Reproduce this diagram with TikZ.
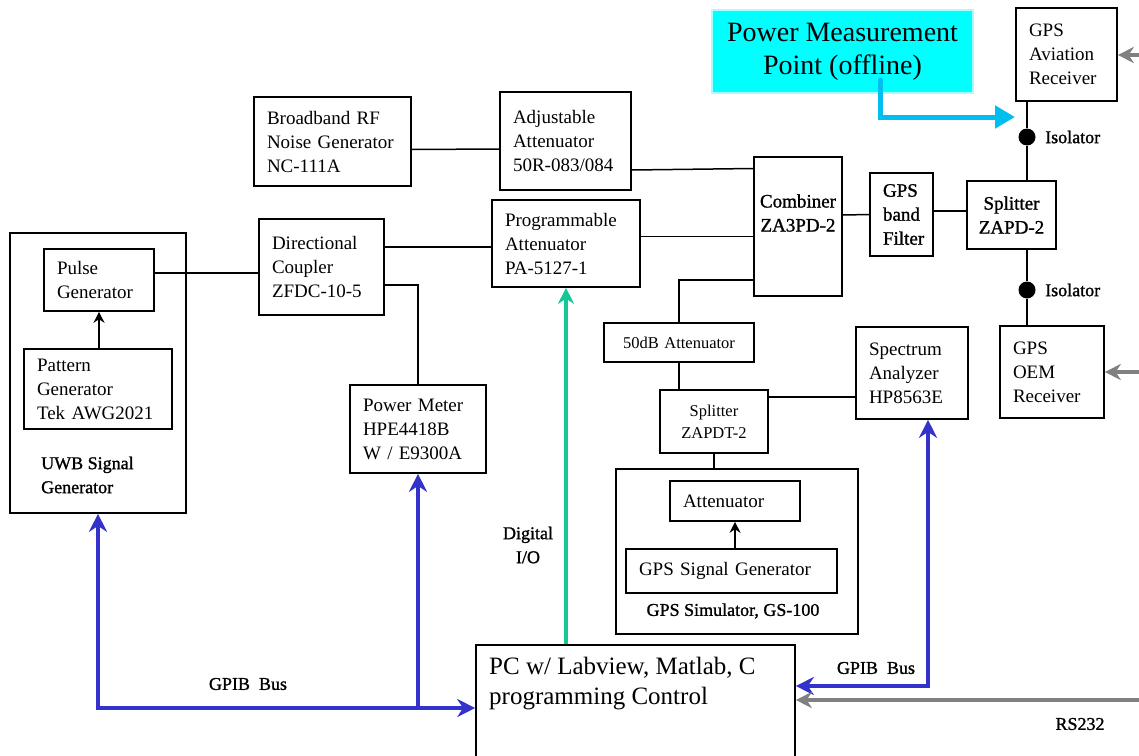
\documentclass[tikz,border=0pt]{standalone}
\usepackage{fontspec}
\setmainfont{Liberation Serif}
\newfontfamily\heavyfont{Liberation Serif}[FakeBold=1.2]
\usetikzlibrary{arrows.meta}

\definecolor{busblue}{RGB}{51,51,204}
\definecolor{iogreen}{RGB}{20,200,150}
\definecolor{measblue}{RGB}{0,190,240}
\definecolor{measfill}{RGB}{0,255,255}
\definecolor{rsgray}{RGB}{128,128,128}

\begin{document}
\begin{tikzpicture}
  [x=1pt,y=-1pt,
   box/.style={draw,line width=1.6pt,align=left,inner xsep=13pt,inner ysep=2pt,font=\fontsize{19}{24}\selectfont},
   dims/.style 2 args={text width=#1pt,minimum height=#2pt},
   heavy/.style={font=\heavyfont\fontsize{19}{24}\selectfont},
   smalltxt/.style={align=center,font=\fontsize{16.5}{22}\selectfont},
   plainbox/.style={draw,line width=1.6pt},
   measbox/.style={draw=measfill!35!white,fill=measfill,line width=1.5pt,align=center,
     minimum width=261pt,minimum height=83pt,font=\fontsize{28}{33}\selectfont},
   lbl/.style={inner sep=0pt,align=center,font=\heavyfont\fontsize{18}{24}\selectfont},
   isodot/.style={circle,fill=black,inner sep=0pt,minimum size=17pt},
   wire/.style={line width=1.5pt},
   bus/.style={line width=3.5pt,busblue},
   rsline/.style={line width=3.5pt,rsgray,-{Stealth[length=16pt,width=16pt]}},
   iolink/.style={line width=3.5pt,iogreen,-{Stealth[length=16pt,width=16pt]}},
   measarrow/.style={line width=5pt,measblue,line cap=round,-{Triangle[length=20pt,width=22pt]}}]
  \useasboundingbox (0,0) rectangle (1139,755);

  \node[measbox] (pmp) at (842.5,51.5) {Power Measurement\\Point (offline)};
  \node[box,dims={75}{93}] (gpsav) at (1066.5,54.5) {GPS\\Aviation\\Receiver};
  \node[box,dims={131}{89}] (noise) at (332.5,141.5) {Broadband RF\\Noise Generator\\NC-111A};
  \node[box,dims={105}{98}] (adjatt) at (565.5,141) {Adjustable\\Attenuator\\50R-083/084};
  \node[plainbox,minimum width=88pt,minimum height=139pt] (comb) at (798,226.5) {};
  \node[lbl,heavy] (combtxt) at (798,213) {Combiner\\ZA3PD-2};
  \node[box,heavy,dims={37}{83}] (filter) at (901.5,214.5) {GPS\\band\\Filter};
  \node[box,heavy,align=center,inner xsep=6pt,dims={77}{68}] (split) at (1011.5,215) {Splitter\\\mbox{ZAPD-2}};
  \node[isodot] (iso1) at (1027,137) {};
  \node[isodot] (iso2) at (1027,290) {};
  \node[lbl,anchor=west] (iso1txt) at (1045,137) {Isolator};
  \node[lbl,anchor=west] (iso2txt) at (1045,290) {Isolator};
  \node[box,dims={78}{92}] (gpsoem) at (1052,372) {GPS\\OEM\\Receiver};
  \node[box,dims={122}{87}] (progatt) at (566,243.5) {Programmable\\Attenuator\\PA-5127-1};
  \node[box,dims={99}{96}] (dircoup) at (321.5,267) {Directional\\Coupler\\ZFDC-10-5};
  \node[box,dims={110}{88}] (pwrmeter) at (418,429) {Power Meter\\HPE4418B\\W / E9300A};
  \node[plainbox,minimum width=176pt,minimum height=280pt] (uwb) at (98,373) {};
  \node[box,dims={84}{62}] (pulse) at (99,280) {Pulse\\Generator};
  \node[box,dims={122}{80}] (pattern) at (98,389) {Pattern\\Generator\\Tek AWG2021};
  \node[lbl,anchor=west,align=left] (uwbtxt) at (41,475) {UWB Signal\\Generator};
  \node[box,smalltxt,dims={124}{39}] (att50) at (679,342.5) {50dB Attenuator};
  \node[box,smalltxt,dims={82}{63}] (splt2) at (714,421.5) {Splitter\\ZAPDT-2};
  \node[box,dims={86}{92}] (spectrum) at (912,373) {Spectrum\\Analyzer\\HP8563E};
  \node[plainbox,minimum width=242pt,minimum height=165pt] (gpssim) at (737,551.5) {};
  \node[box,dims={104}{40}] (atten) at (735,501) {Attenuator};
  \node[box,dims={185}{44}] (gpssig) at (731.5,571) {GPS Signal Generator};
  \node[lbl] (gpssimtxt) at (733,611) {GPS Simulator, GS-100};
  \node[plainbox,minimum width=319pt,minimum height=126pt] (pc) at (635.5,708) {};
  \node[anchor=north west,align=left,inner sep=0pt,font=\fontsize{25}{30}\selectfont] (pctxt) at (489,657)
    {PC w/ Labview, Matlab, C\\programming Control};
  \node[lbl] (iotxt) at (528,545) {Digital\\I/O};
  \node[lbl] (bus1txt) at (248,684) {GPIB\ \ Bus};
  \node[lbl] (bus2txt) at (876,668) {GPIB\ \ Bus};
  \node[lbl] (rstxt) at (1080,724) {RS232};

  \coordinate (meastap) at (880,80);
  \coordinate (measend) at (1015,117);
  \coordinate (avin) at (1139,55);
  \coordinate (oemin) at (1139,372);
  \coordinate (rsin) at (1139,700);

  \draw[wire] ([yshift=-8pt]noise.east) -- ([yshift=-8pt]adjatt.west);
  \draw[wire] ([yshift=-29pt]adjatt.east) -- ([yshift=58pt]comb.west);
  \draw[wire] ([yshift=7pt]progatt.east) -- ([yshift=-10pt]comb.west);
  \draw[wire] ([yshift=11.5pt]comb.east) -- (filter.west);
  \draw[wire] ([yshift=3.5pt]filter.east) -- ([yshift=4pt]split.west);
  \draw[wire] (iso1 |- gpsav.south) -- (iso1) -- (iso1 |- split.north);
  \draw[wire] (iso2 |- split.south) -- (iso2) -- (iso2 |- gpsoem.north);
  \draw[wire] ([yshift=7pt]pulse.east) -- ([yshift=-6pt]dircoup.west);
  \draw[wire] ([yshift=20pt]dircoup.east) -- ([yshift=-3.5pt]progatt.west);
  \draw[wire] ([yshift=-18pt]dircoup.east) -| (pwrmeter.north);
  \draw[wire] ([yshift=-53.5pt]comb.west) -| (att50.north);
  \draw[wire] (att50.south) -- (att50.south |- splt2.north);
  \draw[wire] ([yshift=24.5pt]splt2.east) -- ([yshift=-24pt]spectrum.west);
  \draw[wire] (splt2.south) -- (gpssim.north -| splt2.south);
  \draw[wire,-{Stealth[length=11pt,width=11pt]}] (pattern.north -| pulse.south) -- (pulse.south);
  \draw[wire,-{Stealth[length=11pt,width=11pt]}] (gpssig.north -| atten.south) -- (atten.south);

  \draw[iolink] (pc.north -| progatt.south) -- (progatt.south);
  \draw[measarrow] (meastap) |- (measend);

  \draw[bus,{Stealth[length=18pt,width=18pt]}-{Stealth[length=18pt,width=18pt]}]
    (uwb.south) -- (uwb.south |- pc.west) -- (pc.west);
  \draw[bus,-{Stealth[length=18pt,width=18pt]}] (pwrmeter.south |- pc.west) -- (pwrmeter.south);
  \draw[bus,{Stealth[length=18pt,width=18pt]}-{Stealth[length=18pt,width=18pt]}]
    ([yshift=22pt]pc.east) -| ([xshift=16pt]spectrum.south);

  \draw[rsline] (avin) -- (avin -| gpsav.east);
  \draw[rsline] (oemin) -- (oemin -| gpsoem.east);
  \draw[rsline] (rsin) -- ([yshift=8pt]pc.east);
\end{tikzpicture}
\end{document}
